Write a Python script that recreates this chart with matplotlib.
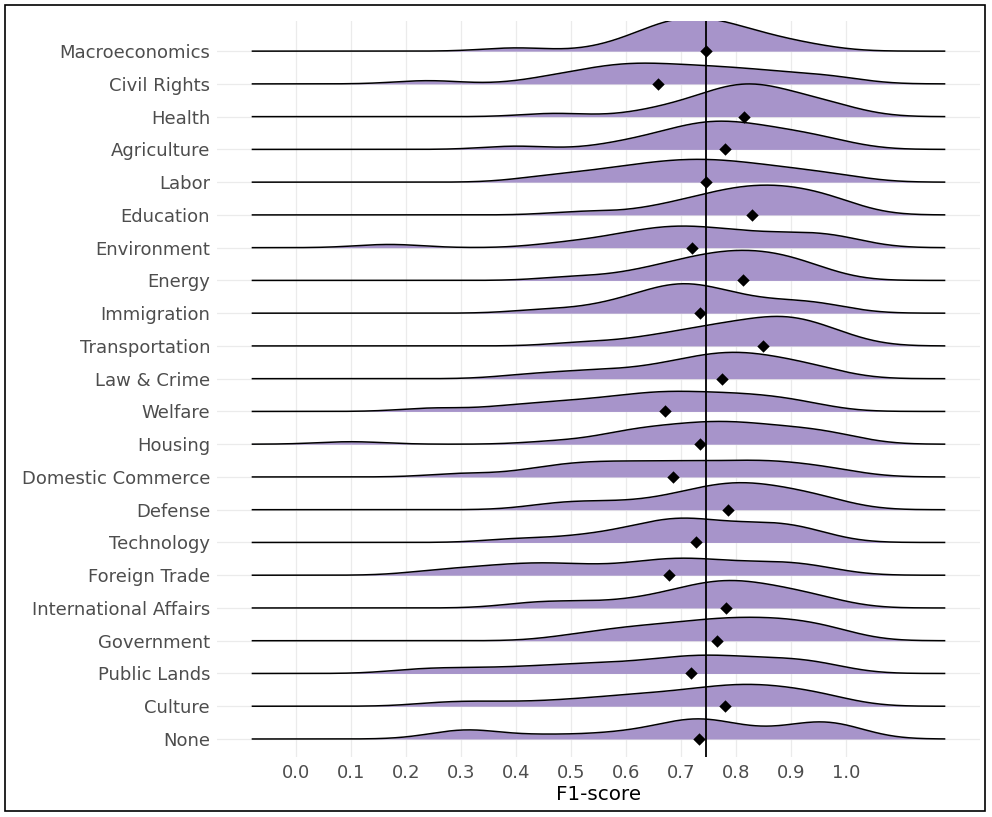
import numpy as np
import matplotlib
matplotlib.use("Agg")
import matplotlib.pyplot as plt
from matplotlib.patches import Rectangle

# F1-scores per policy topic (one value per run)
macroeconomics = [0.40, 0.58, 0.625, 0.645, 0.66, 0.675, 0.69, 0.70, 0.71, 0.72,
                  0.735, 0.75, 0.76, 0.775, 0.79, 0.81, 0.83, 0.855, 0.89, 0.94]
civil_rights = [0.24, 0.45, 0.50, 0.535, 0.56, 0.585, 0.605, 0.625, 0.645, 0.67,
                0.695, 0.72, 0.745, 0.77, 0.80, 0.83, 0.86, 0.90, 0.95, 0.99]
health = [0.47, 0.64, 0.69, 0.72, 0.745, 0.765, 0.78, 0.795, 0.805, 0.815,
          0.825, 0.835, 0.85, 0.865, 0.88, 0.90, 0.92, 0.945, 0.97, 1.00]
agriculture = [0.40, 0.58, 0.63, 0.665, 0.69, 0.71, 0.725, 0.74, 0.755, 0.77,
               0.785, 0.80, 0.815, 0.835, 0.855, 0.875, 0.90, 0.925, 0.95, 0.99]
labor = [0.44, 0.50, 0.545, 0.58, 0.61, 0.635, 0.66, 0.68, 0.70, 0.72,
         0.74, 0.76, 0.78, 0.80, 0.825, 0.85, 0.88, 0.91, 0.95, 1.00]
education = [0.52, 0.64, 0.69, 0.72, 0.745, 0.765, 0.785, 0.80, 0.815, 0.83,
             0.845, 0.86, 0.875, 0.89, 0.905, 0.92, 0.94, 0.96, 0.98, 1.00]
environment = [0.17, 0.48, 0.55, 0.59, 0.62, 0.645, 0.665, 0.685, 0.705, 0.725,
               0.745, 0.77, 0.795, 0.825, 0.855, 0.89, 0.92, 0.95, 0.98, 1.00]
energy = [0.50, 0.60, 0.645, 0.675, 0.70, 0.72, 0.74, 0.755, 0.77, 0.785,
          0.80, 0.815, 0.83, 0.845, 0.86, 0.875, 0.89, 0.91, 0.93, 0.96]
immigration = [0.45, 0.55, 0.59, 0.62, 0.645, 0.665, 0.68, 0.69, 0.70, 0.71,
               0.725, 0.74, 0.76, 0.78, 0.80, 0.83, 0.87, 0.91, 0.94, 0.97]
transportation = [0.52, 0.62, 0.66, 0.70, 0.73, 0.75, 0.77, 0.79, 0.81, 0.83,
                  0.85, 0.86, 0.88, 0.89, 0.90, 0.91, 0.93, 0.95, 0.97, 1.00]
law_crime = [0.42, 0.50, 0.545, 0.60, 0.645, 0.68, 0.705, 0.725, 0.745, 0.765,
             0.78, 0.795, 0.81, 0.825, 0.845, 0.865, 0.885, 0.91, 0.94, 0.97]
welfare = [0.25, 0.38, 0.44, 0.49, 0.53, 0.565, 0.60, 0.625, 0.65, 0.67,
           0.69, 0.715, 0.74, 0.765, 0.79, 0.815, 0.84, 0.87, 0.90, 0.94]
housing = [0.10, 0.47, 0.56, 0.59, 0.61, 0.63, 0.65, 0.67, 0.69, 0.71,
           0.725, 0.74, 0.755, 0.77, 0.785, 0.80, 0.815, 0.83, 0.85, 0.87,
           0.89, 0.91, 0.93, 0.955, 0.98, 1.00]
domestic_commerce = [0.30, 0.42, 0.47, 0.50, 0.53, 0.56, 0.59, 0.62, 0.65, 0.68,
                     0.71, 0.74, 0.77, 0.80, 0.83, 0.855, 0.88, 0.91, 0.95, 0.99]
defense = [0.46, 0.51, 0.56, 0.62, 0.67, 0.70, 0.725, 0.745, 0.765, 0.78,
           0.795, 0.81, 0.825, 0.84, 0.86, 0.88, 0.90, 0.925, 0.95, 0.98]
technology = [0.40, 0.50, 0.56, 0.60, 0.63, 0.655, 0.675, 0.69, 0.70, 0.715,
              0.735, 0.76, 0.785, 0.81, 0.835, 0.86, 0.88, 0.90, 0.92, 0.95]
foreign_trade = [0.25, 0.32, 0.37, 0.41, 0.445, 0.48, 0.52, 0.57, 0.62, 0.65,
                 0.675, 0.70, 0.725, 0.75, 0.785, 0.82, 0.86, 0.89, 0.92, 0.96]
international_affairs = [0.42, 0.48, 0.55, 0.62, 0.66, 0.69, 0.715, 0.735, 0.75, 0.765,
                         0.78, 0.795, 0.81, 0.825, 0.845, 0.865, 0.885, 0.91, 0.94, 0.97]
government = [0.50, 0.56, 0.595, 0.625, 0.655, 0.685, 0.71, 0.735, 0.755, 0.775,
              0.795, 0.815, 0.835, 0.855, 0.875, 0.895, 0.915, 0.94, 0.965, 0.99]
public_lands = [0.22, 0.30, 0.38, 0.45, 0.50, 0.545, 0.59, 0.63, 0.665, 0.695,
                0.72, 0.74, 0.765, 0.79, 0.82, 0.85, 0.88, 0.91, 0.94, 0.97]
culture = [0.27, 0.36, 0.46, 0.53, 0.58, 0.62, 0.655, 0.69, 0.72, 0.745,
           0.77, 0.79, 0.81, 0.83, 0.85, 0.87, 0.895, 0.92, 0.95, 0.98]
none_topic = [0.28, 0.31, 0.34, 0.45, 0.55, 0.62, 0.665, 0.70, 0.715, 0.73,
              0.745, 0.76, 0.79, 0.84, 0.90, 0.93, 0.95, 0.97, 0.99, 1.00]

topics = ["Macroeconomics", "Civil Rights", "Health", "Agriculture", "Labor",
          "Education", "Environment", "Energy", "Immigration", "Transportation",
          "Law & Crime", "Welfare", "Housing", "Domestic Commerce", "Defense",
          "Technology", "Foreign Trade", "International Affairs", "Government",
          "Public Lands", "Culture", "None"]

# aggregate score per topic (diamonds) and the overall score (vertical line)
topic_f1 = [0.746, 0.658, 0.815, 0.780, 0.745, 0.829, 0.720, 0.813, 0.734, 0.849,
            0.774, 0.671, 0.735, 0.685, 0.786, 0.728, 0.678, 0.781, 0.766, 0.718,
            0.779, 0.732]
overall_f1 = 0.746

x_ticks = [0.0, 0.1, 0.2, 0.3, 0.4, 0.5, 0.6, 0.7, 0.8, 0.9, 1.0]

scores = [macroeconomics, civil_rights, health, agriculture, labor, education,
          environment, energy, immigration, transportation, law_crime, welfare,
          housing, domestic_commerce, defense, technology, foreign_trade,
          international_affairs, government, public_lands, culture, none_topic]

bandwidth = 0.06
ridge_scale = 1.02
fill_color = "#A794CA"

lo = min(min(s) for s in scores) - 3 * bandwidth
hi = max(max(s) for s in scores) + 3 * bandwidth
grid = np.linspace(lo, hi, 512)


def kde(values):
    v = np.asarray(values)
    z = (grid[:, None] - v[None, :]) / bandwidth
    return np.exp(-0.5 * z ** 2).sum(axis=1) / (len(v) * bandwidth * np.sqrt(2 * np.pi))


dens = [kde(s) for s in scores]
peak = max(d.max() for d in dens)

fig = plt.figure(figsize=(9.92, 8.17), dpi=100)
ax = fig.add_axes([217 / 992, 1 - 757 / 817, 763 / 992, 736 / 817])

n = len(topics)
for i, d in enumerate(dens):
    y0 = n - i
    top = y0 + d / peak * ridge_scale
    ax.fill_between(grid, y0, top, color=fill_color, lw=0, zorder=2 + i * 0.02)
    ax.plot(grid, top, color="black", lw=1.1, zorder=2.01 + i * 0.02,
            solid_capstyle="butt")

ax.axvline(overall_f1, color="black", lw=1.3, zorder=10)
ax.scatter(topic_f1, [n - i for i in range(n)], marker="D", s=40,
           color="black", lw=0, zorder=11)

pad = 0.05 * (hi - lo)
ax.set_xlim(lo - pad, hi + pad)
ax.set_ylim(0.45, n + 0.92)
ax.set_xticks(x_ticks)
ax.set_xticklabels([f"{t:.1f}" for t in x_ticks])
ax.set_yticks([n - i for i in range(n)])
ax.set_yticklabels(topics)
ax.tick_params(length=0, labelsize=13, labelcolor="#4D4D4D")
ax.tick_params(axis="x", pad=5)
ax.tick_params(axis="y", pad=5)
ax.set_xlabel("F1-score", fontsize=14.3, labelpad=2)
ax.grid(True, color="#EBEBEB", lw=0.9)
ax.set_axisbelow(True)
for s in ax.spines.values():
    s.set_visible(False)

fig.patches.append(Rectangle((5 / 992, 1 - 811 / 817), 980 / 992, 806 / 817,
                             transform=fig.transFigure, fill=False,
                             edgecolor="black", lw=1.2))

fig.savefig("out.png", dpi=100)
